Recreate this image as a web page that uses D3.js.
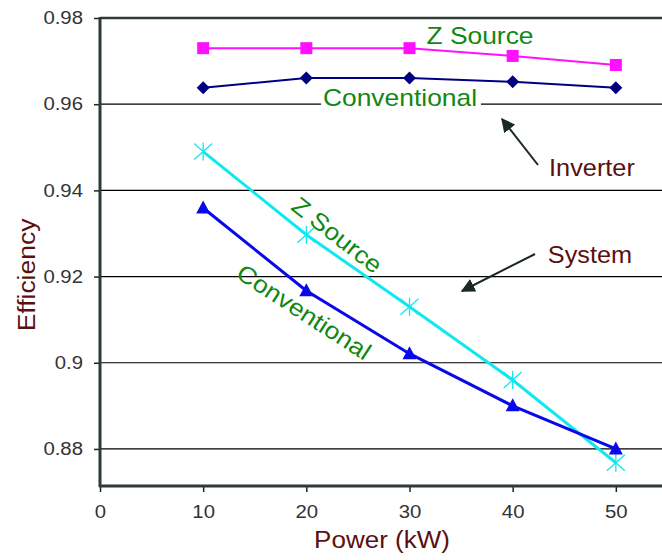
<!DOCTYPE html>
<html>
<head>
<meta charset="utf-8">
<script src="https://cdn.jsdelivr.net/npm/d3@7"></script>
<style>
body { margin: 0; background: #fff; }
text { font-family: Arial, "Liberation Sans", sans-serif; }
</style>
</head>
<body>
<div id="chart"></div>
<script>
const width = 662,
			height = 560;

const power = [10, 20, 30, 40, 50];

const invZSource = [0.973, 0.973, 0.973, 0.9712, 0.9691];
const invConventional = [0.9638, 0.9661, 0.9661, 0.9652, 0.9638];
const sysZSource = [0.9490, 0.9297, 0.9130, 0.8960, 0.8768];
const sysConventional = [0.9359, 0.9167, 0.9021, 0.8900, 0.8800];

const xTicks = [0, 10, 20, 30, 40, 50];
const yTicks = [0.88, 0.9, 0.92, 0.94, 0.96, 0.98];

const x = d3.scaleLinear()
		.domain([0, 60])
		.range([100, 719]);

const y = d3.scaleLinear()
		.domain([0.8714, 0.98])
		.range([486, 18]);

const svg = d3.select("#chart")
	.append("svg")
		.attr("width", width)
		.attr("height", height);

// the original font runs wider than Arial, so stretch texts a bit
function stretch(sel, k) {
	sel.each(function() {
		const len = this.getComputedTextLength();
		d3.select(this)
				.attr("textLength", len * k)
				.attr("lengthAdjust", "spacingAndGlyphs");
	});
}

// gridlines
svg.append("g")
	.selectAll("line")
	.data(yTicks.slice(0, -1))
	.enter()
	.append("line")
		.attr("x1", x(0))
		.attr("x2", width)
		.attr("y1", d => y(d))
		.attr("y2", d => y(d))
		.attr("stroke", "#000")
		.attr("stroke-width", 1.2);

// top border
svg.append("line")
		.attr("x1", x(0))
		.attr("x2", width)
		.attr("y1", y(0.98))
		.attr("y2", y(0.98))
		.attr("stroke", "#2f3a32")
		.attr("stroke-width", 2.5);

// y axis
const yAxis = svg.append("g")
		.attr("transform", `translate(${x(0)},0)`)
		.call(d3.axisLeft(y).tickValues(yTicks).tickSize(6).tickFormat(d => String(+d.toFixed(2))).tickPadding(11));
yAxis.select(".domain").remove();
yAxis.append("line")
		.attr("y1", y(0.98) - 1)
		.attr("y2", y.range()[0] + 1)
		.attr("stroke", "#2f3a32")
		.attr("stroke-width", 3);

// x axis
const xAxis = svg.append("g")
		.attr("transform", `translate(0,${y.range()[0]})`)
		.call(d3.axisBottom(x).tickValues(xTicks).tickSize(6).tickPadding(13));
xAxis.select(".domain").remove();
xAxis.append("line")
		.attr("x1", x(0) - 1)
		.attr("x2", width)
		.attr("stroke", "#2f3a32")
		.attr("stroke-width", 3);

svg.selectAll(".tick line").attr("stroke", "#222").attr("stroke-width", 1.5);
svg.selectAll(".tick text")
		.attr("fill", "#333")
		.style("font-size", "18px")
		.call(stretch, 1.13);

// axis titles
svg.append("text")
		.attr("x", 382)
		.attr("y", 548)
		.attr("text-anchor", "middle")
		.attr("fill", "#5a1010")
		.style("font-size", "23px")
		.text("Power (kW)")
		.call(stretch, 1.13);

svg.append("text")
		.attr("transform", "translate(35,275) rotate(-90)")
		.attr("text-anchor", "middle")
		.attr("fill", "#5a1010")
		.style("font-size", "23px")
		.text("Efficiency")
		.call(stretch, 1.15);

// series
const series = [
	{ values: sysZSource, color: "#10e8f0", shape: "star", width: 3 },
	{ values: sysConventional, color: "#0808e8", shape: "triangle", width: 3 },
	{ values: invZSource, color: "#ff10ff", shape: "square", width: 2 },
	{ values: invConventional, color: "#000080", shape: "diamond", width: 2 }
];

const line = d3.line()
		.x(d => x(d[0]))
		.y(d => y(d[1]));

series.forEach(s => {
	const pts = power.map((p, i) => [p, s.values[i]]);
	const g = svg.append("g");

	g.append("path")
			.datum(pts)
			.attr("fill", "none")
			.attr("stroke", s.color)
			.attr("stroke-width", s.width)
			.attr("d", line);

	const m = g.selectAll(".m")
		.data(pts)
		.enter()
		.append("g")
			.attr("transform", d => `translate(${x(d[0])},${y(d[1])})`);

	if (s.shape === "square") {
		m.append("rect")
				.attr("x", -6).attr("y", -6)
				.attr("width", 12).attr("height", 12)
				.attr("fill", s.color);
	} else if (s.shape === "diamond") {
		m.append("path")
				.attr("d", "M0,-6.5L6.5,0L0,6.5L-6.5,0Z")
				.attr("fill", s.color);
	} else if (s.shape === "triangle") {
		m.append("path")
				.attr("d", "M0,-7.5L7,5.5L-7,5.5Z")
				.attr("fill", s.color);
	} else {
		m.append("path")
				.attr("d", "M-9,-8L9,8M-9,8L9,-8M0,-9L0,9")
				.attr("stroke", s.color)
				.attr("stroke-width", 1.3)
				.attr("fill", "none");
	}
});

// labels
const green = "#118811";

svg.append("text")
		.attr("x", 480)
		.attr("y", 44)
		.attr("text-anchor", "middle")
		.attr("fill", green)
		.style("font-size", "24px")
		.text("Z Source")
		.call(stretch, 1.1);

const conv = svg.append("g");
conv.append("rect")
		.attr("x", 321).attr("y", 86)
		.attr("width", 160).attr("height", 26)
		.attr("fill", "#fff");
conv.append("text")
		.attr("x", 400)
		.attr("y", 106)
		.attr("text-anchor", "middle")
		.attr("fill", green)
		.style("font-size", "24px")
		.text("Conventional")
		.call(stretch, 1.1);

svg.append("text")
		.attr("transform", "translate(337,235) rotate(38)")
		.attr("text-anchor", "middle")
		.attr("dy", "0.35em")
		.attr("fill", green)
		.style("font-size", "24px")
		.text("Z Source")
		.call(stretch, 1.1);

svg.append("text")
		.attr("transform", "translate(304,312) rotate(33)")
		.attr("text-anchor", "middle")
		.attr("dy", "0.35em")
		.attr("fill", green)
		.style("font-size", "24px")
		.text("Conventional")
		.call(stretch, 1.1);

svg.append("text")
		.attr("x", 592)
		.attr("y", 176)
		.attr("text-anchor", "middle")
		.attr("fill", "#5a1010")
		.style("font-size", "23px")
		.text("Inverter")
		.call(stretch, 1.1);

svg.append("text")
		.attr("x", 590)
		.attr("y", 263)
		.attr("text-anchor", "middle")
		.attr("fill", "#5a1010")
		.style("font-size", "23px")
		.text("System")
		.call(stretch, 1.1);

// arrows
svg.append("defs").append("marker")
		.attr("id", "head")
		.attr("viewBox", "0 0 10 10")
		.attr("refX", 9).attr("refY", 5)
		.attr("markerWidth", 7).attr("markerHeight", 7)
		.attr("markerUnits", "strokeWidth")
		.attr("orient", "auto")
	.append("path")
		.attr("d", "M0,0L10,5L0,10Z")
		.attr("fill", "#1a2a1e");

[[538, 165, 502, 119], [535, 254, 462, 291]].forEach(a => {
	svg.append("line")
			.attr("x1", a[0]).attr("y1", a[1])
			.attr("x2", a[2]).attr("y2", a[3])
			.attr("stroke", "#1a2a1e")
			.attr("stroke-width", 2)
			.attr("marker-end", "url(#head)");
});
</script>
</body>
</html>
